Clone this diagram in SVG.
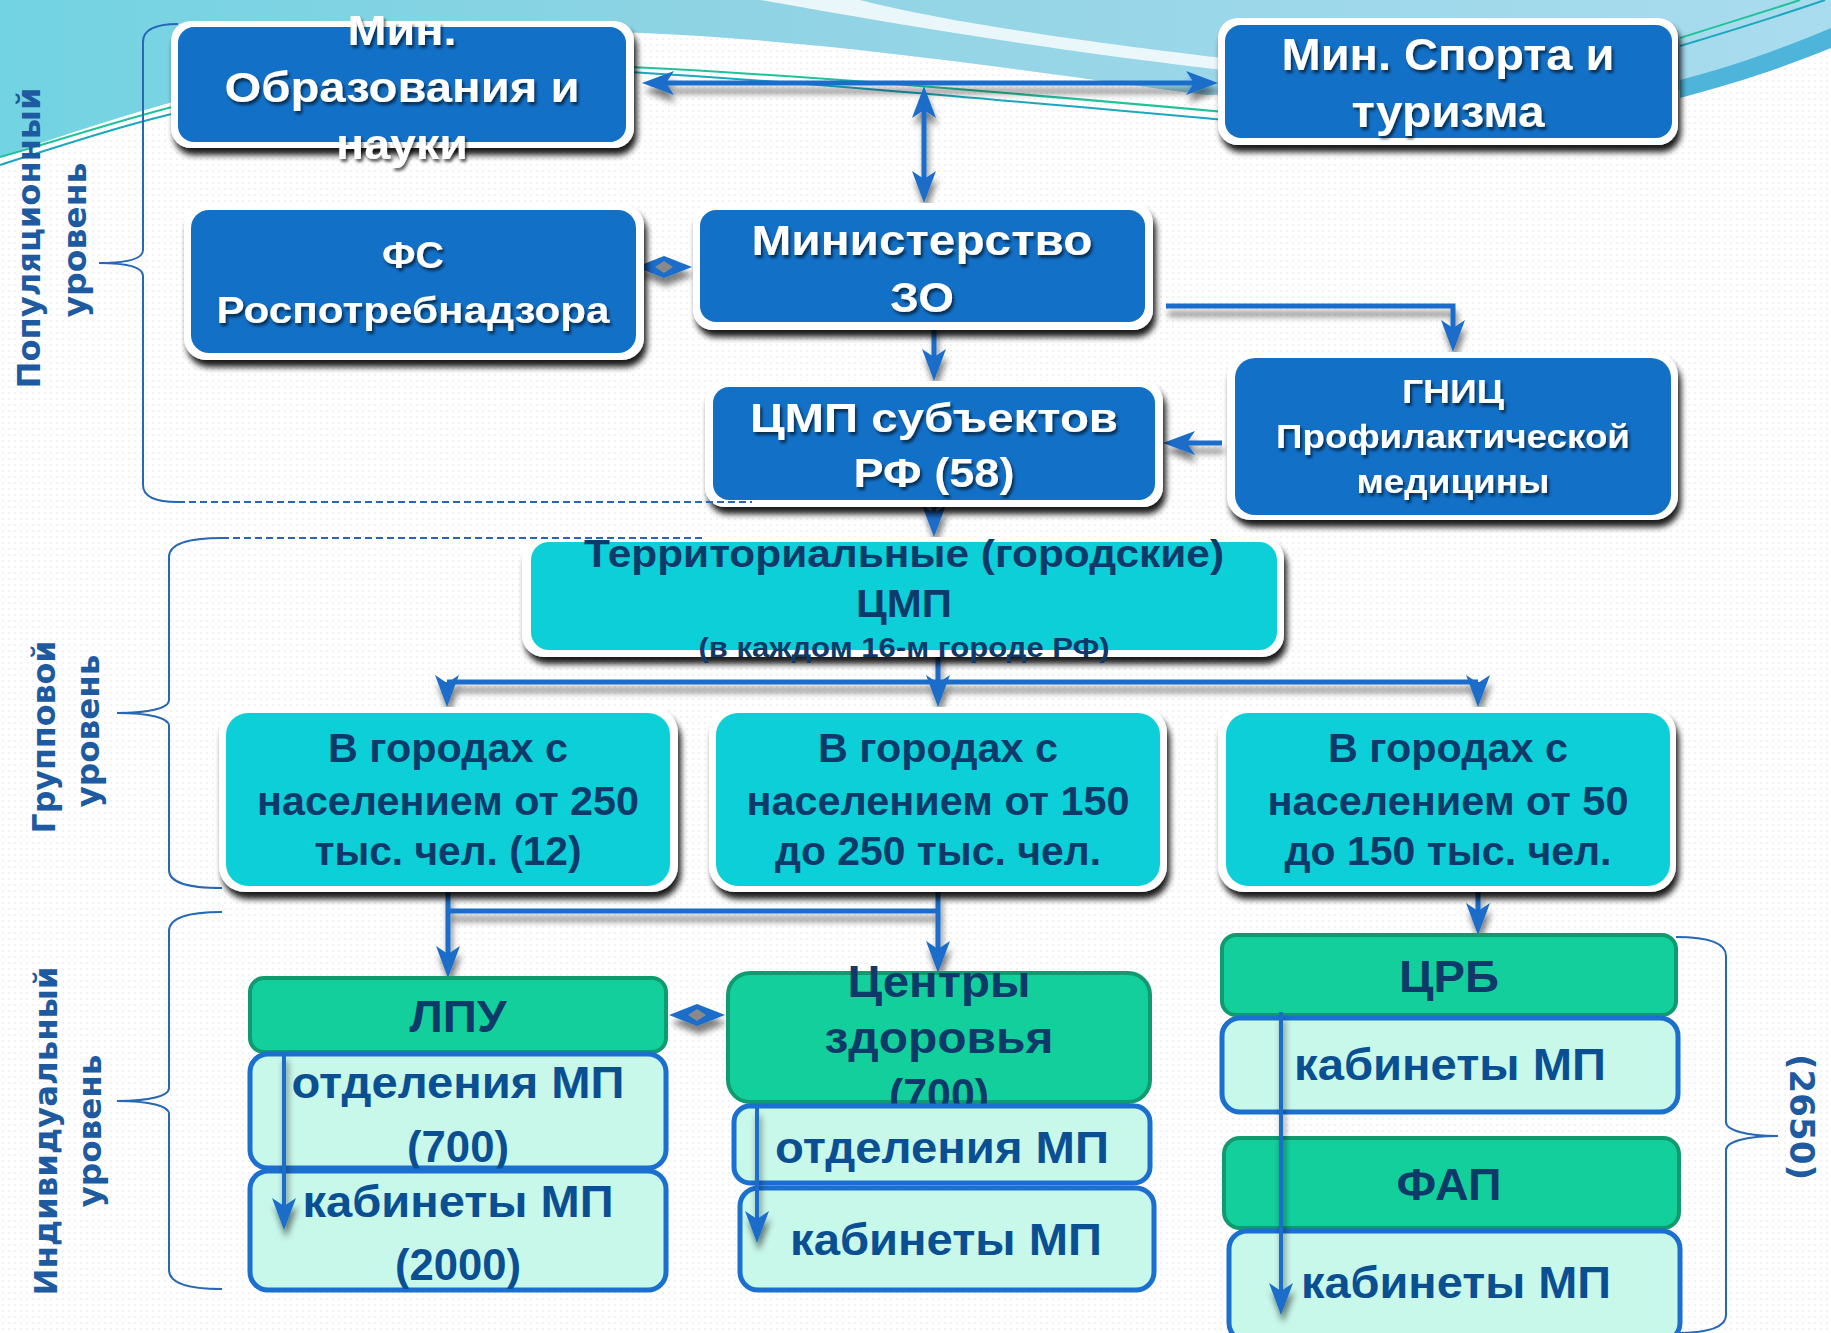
<svg xmlns="http://www.w3.org/2000/svg" width="1831" height="1333" viewBox="0 0 1831 1333">
<defs>
<style>
.t{font-family:"Liberation Sans",Arial,sans-serif;font-weight:bold;text-anchor:middle}
.tw{fill:#ffffff}
.tn{fill:#0d3a69}
.tm{fill:#0b4f93}
.lv{font-family:"DejaVu Sans","Liberation Sans",sans-serif;font-weight:bold;fill:#1d5aa0;text-anchor:middle;font-size:32px}
.outer{fill:#ffffff}
.blue{fill:#1270c7}
.cyan{fill:#0ccfd8}
.hdr{fill:#13cf9b;stroke:#0f9a6f;stroke-width:4}
.sub{fill:#c8f8ea;stroke:#1a6fcf;stroke-width:5}
.con{fill:none;stroke:#1a6dc9;stroke-width:5}
.brace{fill:none;stroke:#2668b5;stroke-width:2}
.dash{fill:none;stroke:#2668b5;stroke-width:2;stroke-dasharray:7 4}
</style>
<pattern id="dots" width="6" height="6" patternUnits="userSpaceOnUse"><circle cx="3" cy="3" r="1" fill="#eeeeee"/></pattern>
<linearGradient id="sky" x1="0" y1="0" x2="1" y2="0">
<stop offset="0" stop-color="#72d3e2"/>
<stop offset="0.4" stop-color="#8fd3e4"/>
<stop offset="1" stop-color="#a9dcee"/>
</linearGradient>
<filter id="ns" x="-10%" y="-10%" width="125%" height="135%">
<feGaussianBlur in="SourceAlpha" stdDeviation="3"/>
<feOffset dx="3" dy="7" result="o"/>
<feComponentTransfer><feFuncA type="linear" slope="0.9"/></feComponentTransfer>
<feMerge><feMergeNode/><feMergeNode in="SourceGraphic"/></feMerge>
</filter>
<filter id="ts" x="-10%" y="-20%" width="120%" height="150%">
<feGaussianBlur in="SourceAlpha" stdDeviation="1.5"/>
<feOffset dx="2" dy="3"/>
<feComponentTransfer><feFuncA type="linear" slope="0.6"/></feComponentTransfer>
<feMerge><feMergeNode/><feMergeNode in="SourceGraphic"/></feMerge>
</filter>
<filter id="cs" x="-10%" y="-20%" width="120%" height="150%">
<feGaussianBlur in="SourceAlpha" stdDeviation="3"/>
<feOffset dx="2" dy="8"/>
<feComponentTransfer><feFuncA type="linear" slope="0.5"/></feComponentTransfer>
<feMerge><feMergeNode/><feMergeNode in="SourceGraphic"/></feMerge>
</filter>
<marker id="ah" viewBox="-22 -13 36 26" refX="0" refY="0" markerWidth="36" markerHeight="26" markerUnits="userSpaceOnUse" orient="auto-start-reverse">
<path d="M12,0 L-20,-12 L-12,0 L-20,12 Z" fill="#1a6dc9"/>
</marker>
</defs>

<!-- background -->
<rect x="0" y="0" width="1831" height="1333" fill="#ffffff"/>
<rect x="0" y="0" width="1831" height="1333" fill="url(#dots)"/>
<path d="M0,0 H1831 V45 C1770,68 1720,82 1680,90 L1207,95 C1050,75 850,42 643,33 C450,28 250,70 0,157 Z" fill="url(#sky)"/>
<path d="M760,0 C900,25 1050,50 1240,72 L1240,60 C1050,38 930,18 860,0 Z" fill="#ffffff" opacity="0.8"/>
<path d="M1680,80 C1740,65 1790,45 1831,28 L1831,48 C1790,65 1740,82 1680,98 Z" fill="#4eb4da"/>
<g fill="none" stroke-width="2">
<path d="M0,157 C60,140 120,120 180,105" stroke="#1fc39a"/>
<path d="M0,165 C60,146 120,126 180,112" stroke="#1aa7c0"/>
<path d="M630,67 C800,75 1000,92 1225,112" stroke="#1fc39a"/>
<path d="M630,72 C800,82 1000,100 1225,120" stroke="#1aa7c0"/>
<path d="M1680,38 C1730,22 1770,10 1800,0" stroke="#1fc39a"/>
<path d="M1680,46 C1740,28 1790,12 1825,0" stroke="#1aa7c0"/>
</g>

<!-- braces -->
<g id="braces">
<path class="brace" d="M178,24 C155,24 143,30 143,42 V250 C143,258 130,263 99,263 C130,263 143,268 143,276 V485 C143,496 155,502 178,502"/>
<path class="brace" d="M222,538 C185,538 169,545 169,557 V700 C169,708 150,713 117,713 C150,713 169,718 169,726 V870 C169,882 185,888 222,888"/>
<path class="brace" d="M222,912 C185,912 169,919 169,931 V1088 C169,1096 150,1101 117,1101 C150,1101 169,1106 169,1114 V1270 C169,1282 185,1289 222,1289"/>
<path class="brace" d="M1676,937 C1712,937 1726,944 1726,956 V1122 C1726,1130 1745,1136 1778,1136 C1745,1136 1726,1142 1726,1150 V1315 C1726,1326 1712,1333 1676,1333"/>
</g>

<!-- level labels -->
<g id="labels">
<text class="lv" transform="translate(40,238) rotate(-90)" textLength="301" lengthAdjust="spacingAndGlyphs">Популяционный</text>
<text class="lv" transform="translate(86,240) rotate(-90)" textLength="155" lengthAdjust="spacingAndGlyphs">уровень</text>
<text class="lv" transform="translate(55,737) rotate(-90)" textLength="193" lengthAdjust="spacingAndGlyphs">Групповой</text>
<text class="lv" transform="translate(99,731) rotate(-90)" textLength="153" lengthAdjust="spacingAndGlyphs">уровень</text>
<text class="lv" transform="translate(57,1131) rotate(-90)" textLength="329" lengthAdjust="spacingAndGlyphs">Индивидуальный</text>
<text class="lv" transform="translate(101,1131) rotate(-90)" textLength="153" lengthAdjust="spacingAndGlyphs">уровень</text>
<text class="lv" transform="translate(1790,1117) rotate(90)" style="font-size:34px" textLength="126" lengthAdjust="spacingAndGlyphs">(2650)</text>
</g>

<!-- connectors -->
<g id="connectors" filter="url(#cs)">
<path class="con" d="M654,83 H1206" marker-start="url(#ah)" marker-end="url(#ah)"/>
<path class="con" d="M924,98 V191" marker-start="url(#ah)" marker-end="url(#ah)"/>
<path class="con" d="M934,322 V369" marker-end="url(#ah)"/>
<path class="con" d="M1166,306 H1453 V340" marker-end="url(#ah)"/>
<path class="con" d="M1222,443 H1175" marker-end="url(#ah)"/>
<path class="con" d="M934,507 V525" marker-end="url(#ah)"/>
<path class="con" d="M938,650 V695" marker-end="url(#ah)"/>
<path class="con" d="M447,682 H1478"/>
<path class="con" d="M447,682 V695" marker-end="url(#ah)"/>
<path class="con" d="M1478,682 V695" marker-end="url(#ah)"/>
<path class="con" d="M448,892 V966" marker-end="url(#ah)"/>
<path class="con" d="M938,892 V961" marker-end="url(#ah)"/>
<path class="con" d="M448,911 H938"/>
<path class="con" d="M1478,892 V923" marker-end="url(#ah)"/>
<g fill="#1a6dc9">
<path d="M636,267 L664,256 L692,267 L664,278 Z"/>
<path d="M669,1015 L697,1004 L725,1015 L697,1026 Z"/>
</g>
<g fill="#8a8a8a">
<path d="M655,267 L664,261 L673,267 L664,273 Z"/>
<path d="M688,1015 L697,1009 L706,1015 L697,1021 Z"/>
</g>
</g>

<!-- top level nodes -->
<g id="node-minobr">
<rect class="outer" x="171" y="21" width="463" height="127" rx="20" filter="url(#ns)"/>
<rect class="blue" x="178" y="27" width="448" height="115" rx="16"/>
<g filter="url(#ts)">
<text class="t tw" x="402" y="45" font-size="43" textLength="109" lengthAdjust="spacingAndGlyphs">Мин.</text>
<text class="t tw" x="402" y="102" font-size="43" textLength="355" lengthAdjust="spacingAndGlyphs">Образования и</text>
<text class="t tw" x="402" y="159" font-size="43" textLength="132" lengthAdjust="spacingAndGlyphs">науки</text>
</g>
</g>

<g id="node-minsport">
<rect class="outer" x="1218" y="18" width="460" height="127" rx="20" filter="url(#ns)"/>
<rect class="blue" x="1225" y="25" width="447" height="113" rx="16"/>
<g filter="url(#ts)">
<text class="t tw" x="1448" y="70" font-size="45" textLength="333" lengthAdjust="spacingAndGlyphs">Мин. Спорта и</text>
<text class="t tw" x="1448" y="127" font-size="45" textLength="193" lengthAdjust="spacingAndGlyphs">туризма</text>
</g>
</g>

<g id="node-fs">
<rect class="outer" x="184" y="204" width="460" height="156" rx="22" filter="url(#ns)"/>
<rect class="blue" x="191" y="210" width="445" height="143" rx="18"/>
<g filter="url(#ts)">
<text class="t tw" x="413" y="268" font-size="37" textLength="62" lengthAdjust="spacingAndGlyphs">ФС</text>
<text class="t tw" x="413" y="323" font-size="37" textLength="393" lengthAdjust="spacingAndGlyphs">Роспотребнадзора</text>
</g>
</g>

<g id="node-minzo">
<rect class="outer" x="693" y="203" width="460" height="127" rx="20" filter="url(#ns)"/>
<rect class="blue" x="700" y="210" width="445" height="112" rx="16"/>
<g filter="url(#ts)">
<text class="t tw" x="922" y="255" font-size="43" textLength="341" lengthAdjust="spacingAndGlyphs">Министерство</text>
<text class="t tw" x="922" y="312" font-size="43" textLength="64" lengthAdjust="spacingAndGlyphs">ЗО</text>
</g>
</g>

<g id="node-cmp-subj">
<rect class="outer" x="705" y="381" width="458" height="126" rx="20" filter="url(#ns)"/>
<rect class="blue" x="713" y="387" width="442" height="113" rx="16"/>
<g filter="url(#ts)">
<text class="t tw" x="934" y="432" font-size="41" textLength="368" lengthAdjust="spacingAndGlyphs">ЦМП субъектов</text>
<text class="t tw" x="934" y="487" font-size="41" textLength="161" lengthAdjust="spacingAndGlyphs">РФ (58)</text>
</g>
</g>

<g id="node-gnic">
<rect class="outer" x="1227" y="352" width="451" height="168" rx="24" filter="url(#ns)"/>
<rect class="blue" x="1235" y="358" width="436" height="157" rx="20"/>
<g filter="url(#ts)">
<text class="t tw" x="1453" y="403" font-size="33" textLength="102" lengthAdjust="spacingAndGlyphs">ГНИЦ</text>
<text class="t tw" x="1453" y="448" font-size="33" textLength="354" lengthAdjust="spacingAndGlyphs">Профилактической</text>
<text class="t tw" x="1453" y="493" font-size="33" textLength="193" lengthAdjust="spacingAndGlyphs">медицины</text>
</g>
</g>

<!-- group level -->
<g id="node-territorial">
<rect class="outer" x="522" y="537" width="762" height="120" rx="22" filter="url(#ns)"/>
<rect class="cyan" x="531" y="542" width="746" height="108" rx="18"/>
<text class="t tn" x="904" y="567" font-size="39" textLength="640" lengthAdjust="spacingAndGlyphs">Территориальные (городские)</text>
<text class="t tn" x="904" y="617" font-size="39" textLength="96" lengthAdjust="spacingAndGlyphs">ЦМП</text>
<text class="t tn" x="904" y="657" font-size="27" textLength="411" lengthAdjust="spacingAndGlyphs">(в каждом 16-м городе РФ)</text>
</g>

<!-- dashed level separators -->
<g id="separators">
<path class="dash" d="M178,502 H752"/>
<path class="dash" d="M222,538 H706"/>
</g>

<g id="node-city250">
<rect class="outer" x="219" y="707" width="459" height="185" rx="26" filter="url(#ns)"/>
<rect class="cyan" x="226" y="713" width="444" height="173" rx="22"/>
<text class="t tn" x="448" y="762" font-size="40" textLength="240" lengthAdjust="spacingAndGlyphs">В городах с</text>
<text class="t tn" x="448" y="815" font-size="40" textLength="382" lengthAdjust="spacingAndGlyphs">населением от 250</text>
<text class="t tn" x="448" y="865" font-size="40" textLength="267" lengthAdjust="spacingAndGlyphs">тыс. чел. (12)</text>
</g>

<g id="node-city150">
<rect class="outer" x="709" y="707" width="458" height="185" rx="26" filter="url(#ns)"/>
<rect class="cyan" x="716" y="713" width="444" height="173" rx="22"/>
<text class="t tn" x="938" y="762" font-size="40" textLength="240" lengthAdjust="spacingAndGlyphs">В городах с</text>
<text class="t tn" x="938" y="815" font-size="40" textLength="383" lengthAdjust="spacingAndGlyphs">населением от 150</text>
<text class="t tn" x="938" y="865" font-size="40" textLength="326" lengthAdjust="spacingAndGlyphs">до 250 тыс. чел.</text>
</g>

<g id="node-city50">
<rect class="outer" x="1218" y="707" width="458" height="185" rx="26" filter="url(#ns)"/>
<rect class="cyan" x="1226" y="713" width="444" height="173" rx="22"/>
<text class="t tn" x="1448" y="762" font-size="40" textLength="240" lengthAdjust="spacingAndGlyphs">В городах с</text>
<text class="t tn" x="1448" y="815" font-size="40" textLength="361" lengthAdjust="spacingAndGlyphs">населением от 50</text>
<text class="t tn" x="1448" y="865" font-size="40" textLength="327" lengthAdjust="spacingAndGlyphs">до 150 тыс. чел.</text>
</g>

<!-- individual level -->
<g id="node-lpu">
<rect class="hdr" x="250" y="978" width="416" height="74" rx="14"/>
<text class="t tn" x="458" y="1032" font-size="45" textLength="97" lengthAdjust="spacingAndGlyphs">ЛПУ</text>
</g>
<g id="node-lpu-otd">
<rect class="sub" x="250" y="1054" width="416" height="114" rx="18"/>
<text class="t tm" x="458" y="1098" font-size="45" textLength="333" lengthAdjust="spacingAndGlyphs">отделения МП</text>
<text class="t tm" x="458" y="1162" font-size="45" textLength="102" lengthAdjust="spacingAndGlyphs">(700)</text>
</g>
<g id="node-lpu-kab">
<rect class="sub" x="250" y="1171" width="416" height="119" rx="18"/>
<text class="t tm" x="458" y="1217" font-size="45" textLength="311" lengthAdjust="spacingAndGlyphs">кабинеты МП</text>
<text class="t tm" x="458" y="1280" font-size="45" textLength="126" lengthAdjust="spacingAndGlyphs">(2000)</text>
</g>

<g id="node-centers">
<rect class="hdr" x="728" y="973" width="422" height="129" rx="22"/>
<text class="t tn" x="939" y="997" font-size="45" textLength="183" lengthAdjust="spacingAndGlyphs">Центры</text>
<text class="t tn" x="939" y="1053" font-size="45" textLength="229" lengthAdjust="spacingAndGlyphs">здоровья</text>
<text class="t tn" x="939" y="1110" font-size="45" textLength="100" lengthAdjust="spacingAndGlyphs">(700)</text>
</g>
<g id="node-centers-otd">
<rect class="sub" x="734" y="1106" width="416" height="77" rx="16"/>
<text class="t tm" x="942" y="1163" font-size="45" textLength="334" lengthAdjust="spacingAndGlyphs">отделения МП</text>
</g>
<g id="node-centers-kab">
<rect class="sub" x="740" y="1188" width="414" height="102" rx="18"/>
<text class="t tm" x="946" y="1255" font-size="45" textLength="312" lengthAdjust="spacingAndGlyphs">кабинеты МП</text>
</g>

<g id="node-crb">
<rect class="hdr" x="1222" y="935" width="454" height="80" rx="14"/>
<text class="t tn" x="1449" y="992" font-size="45" textLength="100" lengthAdjust="spacingAndGlyphs">ЦРБ</text>
</g>
<g id="node-crb-kab">
<rect class="sub" x="1222" y="1018" width="456" height="94" rx="18"/>
<text class="t tm" x="1450" y="1080" font-size="45" textLength="312" lengthAdjust="spacingAndGlyphs">кабинеты МП</text>
</g>
<g id="node-fap">
<rect class="hdr" x="1224" y="1138" width="455" height="90" rx="16"/>
<text class="t tn" x="1449" y="1200" font-size="45" textLength="105" lengthAdjust="spacingAndGlyphs">ФАП</text>
</g>
<g id="node-fap-kab">
<rect class="sub" x="1229" y="1231" width="451" height="110" rx="18"/>
<text class="t tm" x="1456" y="1298" font-size="45" textLength="310" lengthAdjust="spacingAndGlyphs">кабинеты МП</text>
</g>

<!-- inner vertical arrows over sub boxes -->
<g id="inner-connectors" filter="url(#cs)">
<path class="con" style="stroke-width:4" d="M284,1053 V1218" marker-end="url(#ah)"/>
<path class="con" style="stroke-width:4" d="M757,1108 V1231" marker-end="url(#ah)"/>
<path class="con" style="stroke-width:4" d="M1281,1012 V1303" marker-end="url(#ah)"/>
</g>
</svg>
